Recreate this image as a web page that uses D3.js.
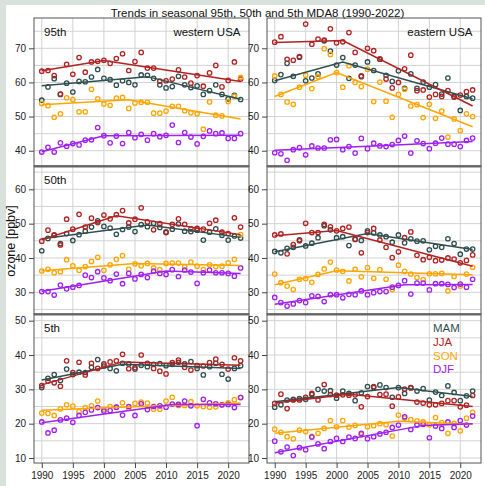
<!DOCTYPE html>
<html>
<head>
<meta charset="utf-8">
<script src="https://cdn.jsdelivr.net/npm/d3@7"></script>
<style>
  body { margin: 0; background: #d9e1dd; }
  svg { display: block; }
  text { font-family: "Liberation Sans", Arial, sans-serif; }
</style>
</head>
<body>
<div id="chart"></div>
<script>
// years 1990-2022
const years = d3.range(1990, 2023);
const seasons = ["MAM", "JJA", "SON", "DJF"];
const seasonColors = ["#2f4f4f", "#b22222", "#ffa500", "#a020f0"];
const xTicks = [1990, 1995, 2000, 2005, 2010, 2015, 2020];

// 95th percentile, western USA
const w95MAM = [54.8,58.7,61.1,56.5,59.8,57.2,60.3,60.2,61.6,63.8, 61.2,60.8,59.2,60.5,60.0,59.3,62.2,62.1,61.2,59.3, 58.4,58.8,61.8,59.3,58.5,59.0,56.5,57.6,59.3,56.5, 55.2,56.2,55.0];
const w95JJA = [63.3,63.5,62.0,56.6,65.3,62.4,67.3,63.0,66.0,66.2, 66.5,65.6,67.0,68.4,63.5,66.1,68.8,64.2,64.2,60.4, 60.5,61.0,63.7,61.6,59.8,62.0,58.9,62.8,65.0,58.7, 60.6,66.0,61.0];
const w95SON = [53.8,53.2,49.8,50.8,55.5,55.0,51.4,51.4,58.0,55.2, 53.7,53.3,55.4,55.6,52.4,54.0,54.2,54.2,51.0,51.0, 51.6,53.0,53.0,51.7,51.1,50.8,46.3,54.3,50.4,50.2, 54.4,55.9,61.5];
const w95DJF = [39.6,41.0,39.6,42.3,41.3,42.1,41.7,43.1,43.2,46.8, 44.4,42.3,44.3,42.1,45.3,43.8,44.8,43.1,45.0,44.1, 44.5,47.5,42.4,45.3,44.0,42.0,44.2,45.8,45.0,45.2, 43.6,43.6,45.0];

// 95th percentile, eastern USA
const e95MAM = [60.6,62.3,65.6,61.8,67.4,60.5,61.3,62.5,72.2,69.2, 65.1,67.3,61.2,65.1,61.7,66.0,63.5,66.8,62.1,60.3, 63.4,58.3,62.5,58.3,60.1,58.6,59.4,56.6,61.3,55.9, 51.8,55.9,55.4];
const e95JJA = [71.8,73.4,66.8,66.5,67.6,77.1,71.2,72.7,72.4,75.7, 71.6,71.9,74.6,68.8,61.9,70.0,69.3,66.9,61.0,58.4, 60.0,64.0,68.0,57.6,57.8,55.7,56.5,55.9,57.6,55.7, 56.3,57.3,57.8];
const e95SON = [61.9,56.5,54.3,53.6,58.6,62.1,58.2,61.7,69.9,68.2, 62.9,58.6,64.9,60.0,58.8,63.9,54.4,60.1,54.5,49.8, 56.5,58.0,53.1,53.5,49.7,53.6,49.5,51.6,44.0,49.3, 45.9,50.8,50.0];
const e95DJF = [39.4,39.1,37.2,40.3,40.9,38.8,41.4,40.8,40.8,43.2, 43.3,40.3,41.2,39.3,43.6,40.6,42.2,41.4,41.2,41.8, 43.0,44.3,39.3,42.9,42.1,40.6,42.2,43.7,41.9,41.9, 41.2,43.0,43.7];

// 50th percentile, western USA
const w50MAM = [42.1,45.7,46.6,44.2,47.1,45.1,46.8,47.8,49.0,50.8, 49.2,48.7,46.9,48.3,49.0,47.7,49.7,49.1,50.1,48.9, 47.4,48.4,49.9,47.8,47.7,48.1,45.2,47.5,48.5,46.6, 45.2,46.4,45.8];
const w50JJA = [44.9,48.1,46.7,43.8,51.3,48.4,52.7,49.0,51.6,50.3, 52.5,51.4,52.6,53.8,50.2,51.3,54.6,50.5,48.2,50.0, 47.6,49.8,51.4,49.8,48.5,48.6,48.4,50.1,51.0,47.5, 47.1,51.7,49.0];
const w50SON = [36.2,36.7,35.7,36.0,39.5,37.7,36.4,37.5,39.0,40.2, 36.4,38.0,39.6,40.7,36.7,38.3,37.7,38.4,37.1,36.6, 38.4,38.5,38.5,37.4,38.8,37.6,36.6,38.0,37.5,37.6, 38.6,39.6,46.8];
const w50DJF = [30.2,30.2,29.2,32.1,31.0,31.5,32.0,35.0,34.3,36.0, 34.2,33.4,35.3,32.5,35.5,33.9,35.2,34.3,36.2,35.5, 35.2,36.6,34.6,36.5,35.9,32.6,35.7,36.5,35.7,35.7, 35.5,34.7,37.1];

// 50th percentile, eastern USA
const e50MAM = [41.9,41.5,42.8,43.1,45.3,43.5,44.3,45.9,49.4,48.2, 45.9,46.2,43.6,45.5,45.1,47.9,47.3,46.7,46.2,44.6, 46.7,44.4,45.6,44.9,45.0,42.4,43.4,43.1,45.6,44.2, 41.1,42.6,42.6];
const e50JJA = [46.7,47.0,41.2,43.9,45.0,50.1,47.4,47.4,49.8,49.1, 47.9,48.6,49.0,45.4,41.5,47.4,48.6,45.2,43.1,40.1, 41.8,45.9,47.6,40.8,39.5,40.2,39.2,39.4,40.0,39.7, 38.6,39.3,40.9];
const e50SON = [35.3,32.8,31.8,30.8,33.8,34.0,32.9,35.2,36.8,38.8, 36.5,36.1,33.3,36.7,34.5,37.2,34.1,36.6,33.8,30.8, 37.9,36.1,35.3,34.3,33.7,35.4,35.4,35.5,30.4,34.6, 31.8,35.3,37.3];
const e50DJF = [28.5,27.0,26.0,26.6,27.6,27.0,29.0,28.8,27.3,29.3, 29.3,28.4,29.4,29.3,30.4,29.3,29.9,30.2,30.2,31.5, 32.0,33.4,29.5,32.7,32.7,30.7,32.5,32.5,32.3,31.4, 32.4,31.5,33.8];

// 5th percentile, western USA
const w05MAM = [30.5,33.2,34.3,32.6,35.9,34.3,35.0,34.9,36.4,38.7, 36.8,36.1,35.4,37.6,37.4,35.9,37.0,36.6,37.3,37.5, 36.9,37.3,37.9,37.4,38.1,36.1,34.2,36.6,37.6,34.4, 33.0,36.1,36.9];
const w05JJA = [31.1,32.4,31.9,30.9,38.3,34.9,37.9,34.2,37.6,36.1, 37.4,38.0,38.3,40.2,36.0,36.3,40.0,37.6,36.1,35.3, 34.5,37.8,38.5,36.4,35.6,36.9,36.8,37.8,38.8,37.3, 35.9,39.2,38.3];
const w05SON = [23.1,23.0,22.4,24.3,25.5,25.1,23.5,24.7,25.2,26.6, 24.2,25.0,24.8,26.1,24.5,25.9,26.3,26.0,24.2,24.2, 26.6,27.7,25.3,25.3,26.4,25.2,25.0,24.8,24.9,25.5, 26.1,27.0,27.7];
const w05DJF = [20.5,17.3,18.1,21.1,21.6,20.4,22.4,23.3,24.0,24.7, 23.7,23.8,24.8,22.5,25.0,22.4,25.8,24.1,25.0,25.2, 24.8,25.7,25.6,26.6,25.2,19.4,27.1,26.1,25.8,25.5, 25.6,24.7,27.6];

// 5th percentile, eastern USA
const e05MAM = [24.8,25.5,26.9,27.1,27.3,27.1,28.5,30.0,29.5,29.6, 27.4,29.5,28.8,26.7,29.0,30.8,30.5,31.3,30.5,27.7, 30.5,28.8,30.5,29.5,30.2,26.9,29.2,28.2,31.0,29.1, 26.7,28.1,29.5];
const e05JJA = [25.9,28.6,24.4,26.9,26.9,27.7,28.8,26.9,31.4,28.5, 28.3,28.4,28.3,28.4,24.9,27.9,30.8,28.5,28.6,25.1, 27.8,30.1,30.4,26.3,26.0,25.5,25.5,25.9,26.7,26.7, 24.9,25.4,28.2];
const e05SON = [18.4,17.5,16.2,15.6,18.1,17.7,16.3,17.2,18.6,20.9, 19.1,20.9,19.0,19.5,16.8,19.1,19.4,20.0,19.7,16.4, 22.5,21.6,21.2,20.8,20.5,19.7,21.8,20.3,17.2,20.1, 17.9,21.6,23.3];
const e05DJF = [14.9,11.8,13.2,10.7,13.0,12.4,16.1,14.1,12.7,14.8, 15.7,14.8,16.1,15.7,17.2,15.6,16.2,17.0,17.5,18.9, 19.6,22.0,18.3,19.6,19.8,15.9,19.3,18.6,20.5,18.9, 20.9,19.6,22.2];

// piecewise linear trends: [year, ppbv] at start, breakpoint, end  (order MAM, JJA, SON, DJF)
const w95Trend = [[[1990,59.0],[2007,61.7],[2022,55.1]], [[1990,63.4],[2000,66.4],[2022,60.3]], [[1990,53.5],[2004,54.9],[2022,49.3]], [[1990,39.7],[2000,44.4],[2022,44.5]]];
const e95Trend = [[[1990,60.5],[2001,66.0],[2022,55.2]], [[1990,71.7],[2001,72.3],[2022,53.1]], [[1990,55.9],[2000,62.9],[2022,47.0]], [[1990,40.1],[2006,41.4],[2022,42.7]]];
const w50Trend = [[[1990,45.6],[2007,49.6],[2022,46.0]], [[1990,45.3],[2002,52.3],[2022,46.8]], [[1990,36.3],[2005,38.4],[2022,37.8]], [[1990,30.3],[2010,36.2],[2022,35.5]]];
const e50Trend = [[[1990,41.8],[2005,47.1],[2022,42.5]], [[1990,46.5],[2000,48.0],[2022,37.6]], [[1990,32.2],[2000,36.3],[2022,35.1]], [[1990,26.5],[2011,32.2],[2022,32.3]]];
const w05Trend = [[[1990,32.7],[2003,37.3],[2022,36.1]], [[1990,31.3],[2003,38.0],[2022,37.0]], [[1990,23.9],[2006,25.0],[2022,26.0]], [[1990,20.3],[2011,25.6],[2022,25.6]]];
const e05Trend = [[[1990,26.4],[2010,30.5],[2022,27.9]], [[1990,26.0],[2002,28.6],[2022,25.0]], [[1990,17.2],[2010,20.7],[2022,19.8]], [[1990,11.5],[2014,19.5],[2022,20.0]]];

// layout
const width = 485, height = 486;
const cols = [
  { name: "western USA", x0: 34, x1: 249 },
  { name: "eastern USA", x0: 267, x1: 481 }
];
const rows = [
  { name: "95th", y0: 18,  y1: 166, domain: [35.52, 78.88], ticks: [40, 50, 60, 70] },
  { name: "50th", y0: 166, y1: 314, domain: [23.68, 66.79], ticks: [30, 40, 50, 60] },
  { name: "5th",  y0: 314, y1: 463, domain: [8.54, 51.95],  ticks: [10, 20, 30, 40, 50] }
];
const panelSeries = [
  [[w95MAM, w95JJA, w95SON, w95DJF], [e95MAM, e95JJA, e95SON, e95DJF]],
  [[w50MAM, w50JJA, w50SON, w50DJF], [e50MAM, e50JJA, e50SON, e50DJF]],
  [[w05MAM, w05JJA, w05SON, w05DJF], [e05MAM, e05JJA, e05SON, e05DJF]]
];
const panelTrends = [[w95Trend, e95Trend], [w50Trend, e50Trend], [w05Trend, e05Trend]];

const svg = d3.select("#chart").append("svg")
  .attr("width", width).attr("height", height);

svg.append("rect").attr("x", 6).attr("y", 5)
  .attr("width", width - 6).attr("height", height - 5).attr("fill", "#fff");

svg.append("text")
  .attr("x", 257.5).attr("y", 16.5)
  .attr("text-anchor", "middle")
  .style("font-size", "11.5px").attr("fill", "#111")
  .text("Trends in seasonal 95th, 50th and 5th MDA8 (1990-2022)");

svg.append("text")
  .attr("transform", "translate(14.5,241) rotate(-90)")
  .attr("text-anchor", "middle")
  .style("font-size", "12.5px").attr("fill", "#111")
  .text("ozone [ppbv]");

rows.forEach((row, ri) => {
  cols.forEach((col, ci) => {
    const x = d3.scaleLinear().domain([1988.75, 2023.35]).range([col.x0, col.x1]);
    const y = d3.scaleLinear().domain(row.domain).range([row.y1, row.y0]);
    const g = svg.append("g");

    // grid
    const hGrid = d3.range(Math.ceil(row.domain[0] / 5) * 5, row.domain[1], 5);
    g.append("g").selectAll("line").data(hGrid).join("line")
      .attr("x1", col.x0).attr("x2", col.x1)
      .attr("y1", d => y(d)).attr("y2", d => y(d))
      .attr("stroke", "#d2d2d2").attr("stroke-width", 1);
    g.append("g").selectAll("line").data(xTicks).join("line")
      .attr("x1", d => x(d)).attr("x2", d => x(d))
      .attr("y1", row.y0).attr("y2", row.y1)
      .attr("stroke", "#d2d2d2").attr("stroke-width", 1);

    const series = panelSeries[ri][ci];
    const trends = panelTrends[ri][ci];

    // points
    series.forEach((vals, si) => {
      g.append("g").selectAll("circle").data(vals).join("circle")
        .attr("cx", (d, i) => x(years[i]))
        .attr("cy", d => y(d))
        .attr("r", 2.2)
        .attr("fill", "none")
        .attr("stroke", seasonColors[si])
        .attr("stroke-width", 1.3);
    });

    // trend lines
    const line = d3.line().x(d => x(d[0])).y(d => y(d[1]));
    trends.forEach((tr, si) => {
      g.append("path").attr("d", line(tr))
        .attr("fill", "none")
        .attr("stroke", seasonColors[si])
        .attr("stroke-width", 1.5);
    });

    // frame
    g.append("rect")
      .attr("x", col.x0).attr("y", row.y0)
      .attr("width", col.x1 - col.x0).attr("height", row.y1 - row.y0)
      .attr("fill", "none").attr("stroke", "#555").attr("stroke-width", 1);
    if (ri > 0) {
      g.append("line")
        .attr("x1", col.x0).attr("x2", col.x1)
        .attr("y1", row.y0 + 0.5).attr("y2", row.y0 + 0.5)
        .attr("stroke", "#666").attr("stroke-width", 2);
    }

    // y axis
    const yAxis = g.append("g")
      .attr("transform", `translate(${col.x0},0)`)
      .call(d3.axisLeft(y).tickValues(row.ticks).tickSize(5).tickPadding(3));
    yAxis.select(".domain").remove();
    yAxis.selectAll("line").attr("stroke", "#444");
    yAxis.selectAll("text").style("font-size", "10px").attr("fill", "#222")
      .style("font-family", "'Liberation Sans', Arial, sans-serif");

    // x axis on bottom row
    if (ri === rows.length - 1) {
      const xAxis = g.append("g")
        .attr("transform", `translate(0,${row.y1})`)
        .call(d3.axisBottom(x).tickValues(xTicks).tickFormat(d3.format("d")).tickSize(5).tickPadding(4));
      xAxis.select(".domain").remove();
      xAxis.selectAll("line").attr("stroke", "#444");
      xAxis.selectAll("text").style("font-size", "10px").attr("fill", "#222")
        .style("font-family", "'Liberation Sans', Arial, sans-serif");
    }

    // labels
    if (ci === 0) {
      g.append("text").attr("x", col.x0 + 10).attr("y", row.y0 + 17.5)
        .style("font-size", "11.5px").attr("fill", "#111").text(row.name);
    }
    if (ri === 0) {
      g.append("text").attr("x", col.x1 - 8.5).attr("y", row.y0 + 17.5)
        .attr("text-anchor", "end")
        .style("font-size", "11.5px").attr("fill", "#111").text(col.name);
    }
    if (ri === rows.length - 1 && ci === 1) {
      g.append("g").selectAll("text").data(seasons).join("text")
        .attr("x", 433).attr("y", (d, i) => 331.7 + i * 13.9)
        .style("font-size", "11.5px")
        .attr("fill", (d, i) => seasonColors[i])
        .text(d => d);
    }
  });
});
</script>
</body>
</html>
